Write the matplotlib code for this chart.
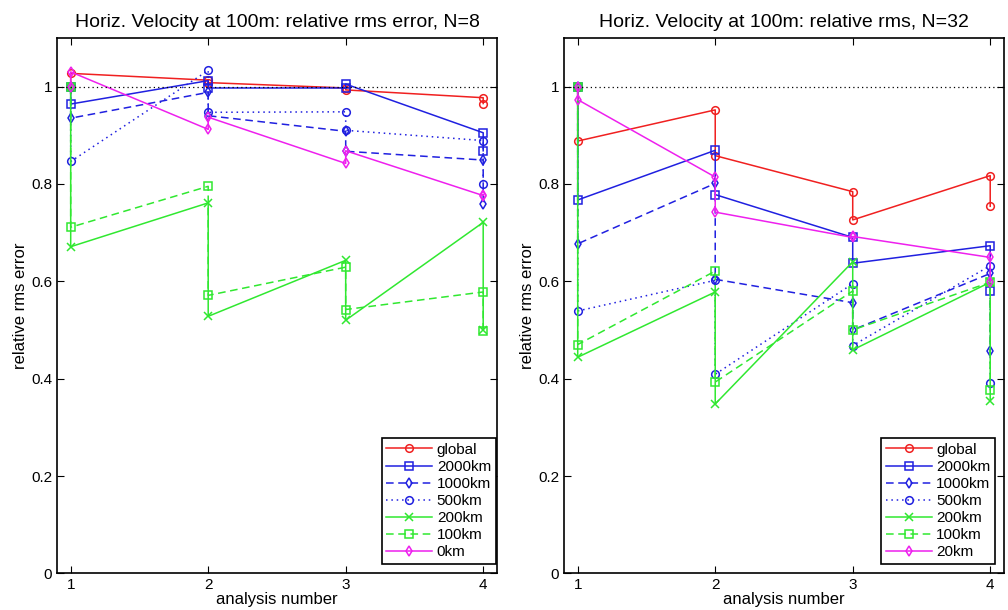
import matplotlib.pyplot as plt

# analysis number: each step has a forecast and an analysis value (sawtooth)
steps = [1, 2, 3, 4]
x = [s for s in steps for _ in range(2)]

labels_n8 = ["global", "2000km", "1000km", "500km", "200km", "100km", "0km"]
labels_n32 = ["global", "2000km", "1000km", "500km", "200km", "100km", "20km"]

# N=8, values: [f1, a1, f2, a2, f3, a3, f4, a4]
global_n8 = [1.0, 1.027, 1.013, 1.008, 0.997, 0.993, 0.977, 0.965]
km2000_n8 = [1.0, 0.964, 1.012, 0.997, 0.997, 1.005, 0.905, 0.868]
km1000_n8 = [1.0, 0.935, 0.988, 0.940, 0.908, 0.867, 0.849, 0.758]
km500_n8 = [1.0, 0.846, 1.033, 0.947, 0.948, 0.910, 0.889, 0.800]
km200_n8 = [1.0, 0.671, 0.761, 0.528, 0.643, 0.520, 0.721, 0.500]
km100_n8 = [1.0, 0.711, 0.795, 0.571, 0.629, 0.542, 0.578, 0.497]
km0_n8 = [1.0, 1.030, 0.912, 0.937, 0.842, 0.868, 0.776, 0.778]

# N=32
global_n32 = [1.0, 0.888, 0.952, 0.858, 0.784, 0.726, 0.817, 0.754]
km2000_n32 = [1.0, 0.767, 0.869, 0.778, 0.690, 0.637, 0.673, 0.580]
km1000_n32 = [1.0, 0.677, 0.801, 0.604, 0.556, 0.500, 0.616, 0.457]
km500_n32 = [1.0, 0.539, 0.602, 0.409, 0.595, 0.468, 0.632, 0.391]
km200_n32 = [1.0, 0.444, 0.578, 0.348, 0.640, 0.459, 0.598, 0.354]
km100_n32 = [1.0, 0.470, 0.621, 0.393, 0.580, 0.500, 0.598, 0.376]
km20_n32 = [1.0, 0.973, 0.814, 0.742, 0.690, 0.692, 0.649, 0.598]

red, blue, green, mag = "#f02020", "#2020e0", "#30e830", "#ee20ee"
styles = [
    (red, "-", "o"),
    (blue, "-", "s"),
    (blue, (0, (5, 3)), "d"),
    (blue, (0, (1, 2.5)), "o"),
    (green, "-", "x"),
    (green, (0, (5, 3)), "s"),
    (mag, "-", "d"),
]

plt.rcParams["font.family"] = ["Liberation Sans", "DejaVu Sans"]

fig = plt.figure(figsize=(10.08, 6.10), dpi=100)
ax1 = fig.add_axes([0.0565, 0.060, 0.4365, 0.878])
ax2 = fig.add_axes([0.5595, 0.060, 0.4365, 0.878])

panels = [
    (ax1, [global_n8, km2000_n8, km1000_n8, km500_n8, km200_n8, km100_n8, km0_n8],
     labels_n8, "Horiz. Velocity at 100m: relative rms error, N=8", (0.997, 0.018)),
    (ax2, [global_n32, km2000_n32, km1000_n32, km500_n32, km200_n32, km100_n32, km20_n32],
     labels_n32, "Horiz. Velocity at 100m: relative rms, N=32", (0.980, 0.018)),
]

for ax, series, labels, title, anchor in panels:
    for vals, lab, (c, ls, mk) in zip(series, labels, styles):
        ax.plot(x, vals, color=c, linestyle=ls, marker=mk, markersize=5.5,
                markerfacecolor="none", markeredgewidth=1.1, linewidth=1.1,
                label=lab)
    ax.axhline(1.0, color="black", linestyle=(0, (1, 2.5)), linewidth=0.9)
    ax.set_xlim(0.9, 4.1)
    ax.set_ylim(0, 1.1)
    ax.set_xticks(steps)
    ax.set_yticks([0, 0.2, 0.4, 0.6, 0.8, 1])
    ax.set_yticklabels(["0", "0.2", "0.4", "0.6", "0.8", "1"])
    ax.tick_params(direction="in", top=True, right=True, labelsize=11, length=5)
    for sp in ax.spines.values():
        sp.set_linewidth(1.2)
    ax.set_title(title, fontsize=14, pad=8)
    ax.set_xlabel("analysis number", fontsize=12, labelpad=0)
    ax.set_ylabel("relative rms error", fontsize=12, labelpad=2)
    leg = ax.legend(loc="lower right", bbox_to_anchor=anchor, fontsize=11,
                    fancybox=False, framealpha=1, edgecolor="black",
                    borderaxespad=0, handlelength=3.0, labelspacing=0.2,
                    handletextpad=0.3, borderpad=0.3)
    leg.get_frame().set_linewidth(1.2)

fig.savefig("out.png", dpi=100)
